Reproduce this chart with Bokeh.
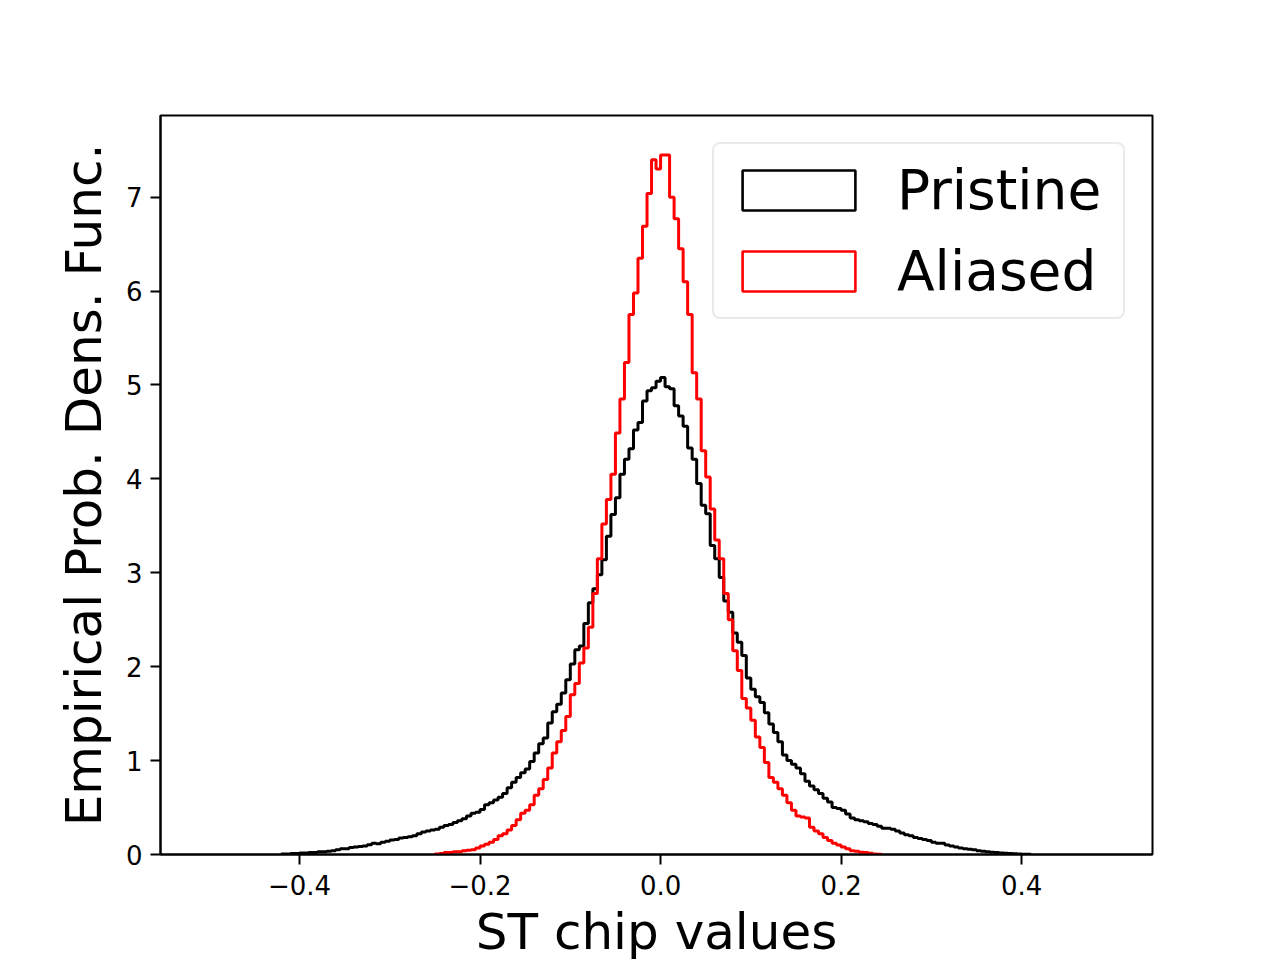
import numpy as np
from bokeh.plotting import figure
from bokeh.models import Range1d, FixedTicker, CustomJSTickFormatter, Legend, LegendItem
from bokeh.embed import file_html
from bokeh.resources import INLINE

# ---------------- data ----------------
bin_width = 0.005

pristine_start = -0.42
pristine = [
    0.005, 0.005, 0.01, 0.01, 0.015, 0.015, 0.02, 0.02, 0.03, 0.03,
    0.035, 0.04, 0.05, 0.06, 0.06, 0.075, 0.08, 0.085, 0.09, 0.105,
    0.12, 0.115, 0.13, 0.14, 0.155, 0.16, 0.175, 0.18, 0.19, 0.2,
    0.22, 0.24, 0.25, 0.26, 0.27, 0.29, 0.31, 0.32, 0.34, 0.36,
    0.38, 0.41, 0.44, 0.45, 0.48, 0.53, 0.55, 0.58, 0.61, 0.65,
    0.71, 0.77, 0.82, 0.87, 0.91, 0.99, 1.08, 1.18, 1.24, 1.4,
    1.52, 1.6, 1.72, 1.86, 2.03, 2.18, 2.22, 2.46, 2.68, 2.83,
    2.98, 3.14, 3.39, 3.62, 3.8, 4.05, 4.21, 4.32, 4.52, 4.6,
    4.83, 4.94, 4.97, 5.04,
    5.08, 4.98, 4.96, 4.78, 4.67, 4.56, 4.33, 4.21, 3.95, 3.72,
    3.63, 3.29, 3.15, 2.95, 2.7, 2.58, 2.36, 2.26, 2.12, 1.88,
    1.76, 1.68, 1.62, 1.51, 1.39, 1.3, 1.2, 1.06, 1.0, 0.96,
    0.92, 0.86, 0.78, 0.73, 0.69, 0.65, 0.6, 0.56, 0.5, 0.49,
    0.47, 0.43, 0.39, 0.37, 0.36, 0.35, 0.33, 0.32, 0.3, 0.28,
    0.28, 0.27, 0.25, 0.23, 0.21, 0.2, 0.18, 0.17, 0.16, 0.15,
    0.13, 0.12, 0.12, 0.1, 0.09, 0.08, 0.07, 0.06, 0.055, 0.05,
    0.04, 0.035, 0.03, 0.025, 0.02, 0.015, 0.012, 0.01, 0.008, 0.005,
    0.003, 0.002,
]

aliased_start = -0.25
aliased = [
    0.005, 0.01, 0.02, 0.02, 0.03, 0.03, 0.04, 0.045, 0.05, 0.07,
    0.09, 0.11, 0.13, 0.16, 0.2, 0.22, 0.26, 0.31, 0.37, 0.44,
    0.47, 0.53, 0.63, 0.7, 0.8, 0.92, 1.08, 1.2, 1.32, 1.47,
    1.7, 1.82, 2.04, 2.2, 2.42, 2.78, 3.15, 3.52, 3.78, 4.05,
    4.49, 4.85, 5.24, 5.75, 5.98, 6.35, 6.69, 7.04, 7.4, 7.3,
    7.45, 7.45, 7.0, 6.77, 6.45, 6.1, 5.75, 5.13, 4.85, 4.3,
    4.02, 3.68, 3.35, 3.15, 2.78, 2.5, 2.17, 1.96, 1.66, 1.56,
    1.43, 1.25, 1.14, 0.98, 0.82, 0.77, 0.7, 0.63, 0.55, 0.47,
    0.41, 0.4, 0.39, 0.29, 0.25, 0.22, 0.18, 0.15, 0.12, 0.1,
    0.08, 0.06, 0.04, 0.035, 0.025, 0.02, 0.012, 0.006, 0.003,
]

series_labels = ["Pristine", "Aliased"]
series_colors = ["#000000", "#ff0000"]

x_ticks = [-0.4, -0.2, 0.0, 0.2, 0.4]
y_ticks = [0, 1, 2, 3, 4, 5, 6, 7]
x_label = "ST chip values"
y_label = "Empirical Prob. Dens. Func."

FONT = "DejaVu Sans"


def step_outline(start, values):
    edges = start + bin_width * np.arange(len(values) + 1)
    xs = np.concatenate([[edges[0]], edges])
    ys = np.concatenate([[0.0], np.asarray(values, dtype=float), [0.0]])
    return xs, ys, edges


p = figure(
    frame_width=992, frame_height=739,
    min_border_left=160, min_border_top=115, min_border_right=110, min_border_bottom=60,
    x_range=Range1d(-0.554, 0.545), y_range=Range1d(0, 7.87),
    output_backend="svg", toolbar_location=None,
    background_fill_color="white", border_fill_color="white",
)
p.grid.visible = False
p.outline_line_color = "black"
p.outline_line_width = 2
p.outline_line_alpha = 1.0

LW = 3.0
items = []
for lab, start, vals, col in [(series_labels[0], pristine_start, pristine, series_colors[0]),
                              (series_labels[1], aliased_start, aliased, series_colors[1])]:
    xs, ys, edges = step_outline(start, vals)
    p.step(xs, ys, mode="after", line_color=col, line_width=LW)
    # legend proxy: an unfilled, zero-size rectangle at the first bin edge
    proxy = p.quad(left=[edges[0]], right=[edges[0]], top=[0.0], bottom=[0.0],
                   fill_alpha=0, line_color=col, line_width=2.6)
    items.append(LegendItem(label=lab, renderers=[proxy]))

legend = Legend(items=items, location="top_right", margin=27)
legend.label_text_font = FONT
legend.label_text_font_size = "55px"
legend.label_text_color = "black"
legend.glyph_width = 141
legend.glyph_height = 50
legend.label_standoff = 28
legend.label_width = 212
legend.spacing = 17
legend.padding = 14
legend.border_line_color = "#d6d6d6"
legend.border_line_width = 2.2
legend.background_fill_color = "white"
legend.background_fill_alpha = 0.8
if "border_radius" in Legend.properties():
    legend.border_radius = 8
p.add_layout(legend)

for ax in (p.xaxis[0], p.yaxis[0]):
    ax.axis_line_color = "black"
    ax.axis_line_width = 2
    ax.major_tick_line_color = "black"
    ax.major_tick_line_width = 2
    ax.major_tick_out = 10
    ax.major_tick_in = 0
    ax.minor_tick_line_color = None
    ax.major_label_text_font = FONT
    ax.major_label_text_font_size = "26px"
    ax.major_label_text_color = "black"
    ax.major_label_standoff = 8
    ax.axis_label_text_font = FONT
    ax.axis_label_text_font_size = "50px"
    ax.axis_label_text_font_style = "normal"
    ax.axis_label_text_color = "black"

p.xaxis[0].ticker = FixedTicker(ticks=x_ticks)
p.xaxis[0].formatter = CustomJSTickFormatter(code="return tick.toFixed(1).replace('-', '\\u2212');")
p.xaxis[0].axis_label = x_label
p.xaxis[0].major_label_standoff = 10
p.xaxis[0].axis_label_standoff = 5

p.yaxis[0].ticker = FixedTicker(ticks=y_ticks)
p.yaxis[0].axis_label = y_label
p.yaxis[0].axis_label_standoff = 10

open("out.html", "w").write(file_html(p, INLINE))
